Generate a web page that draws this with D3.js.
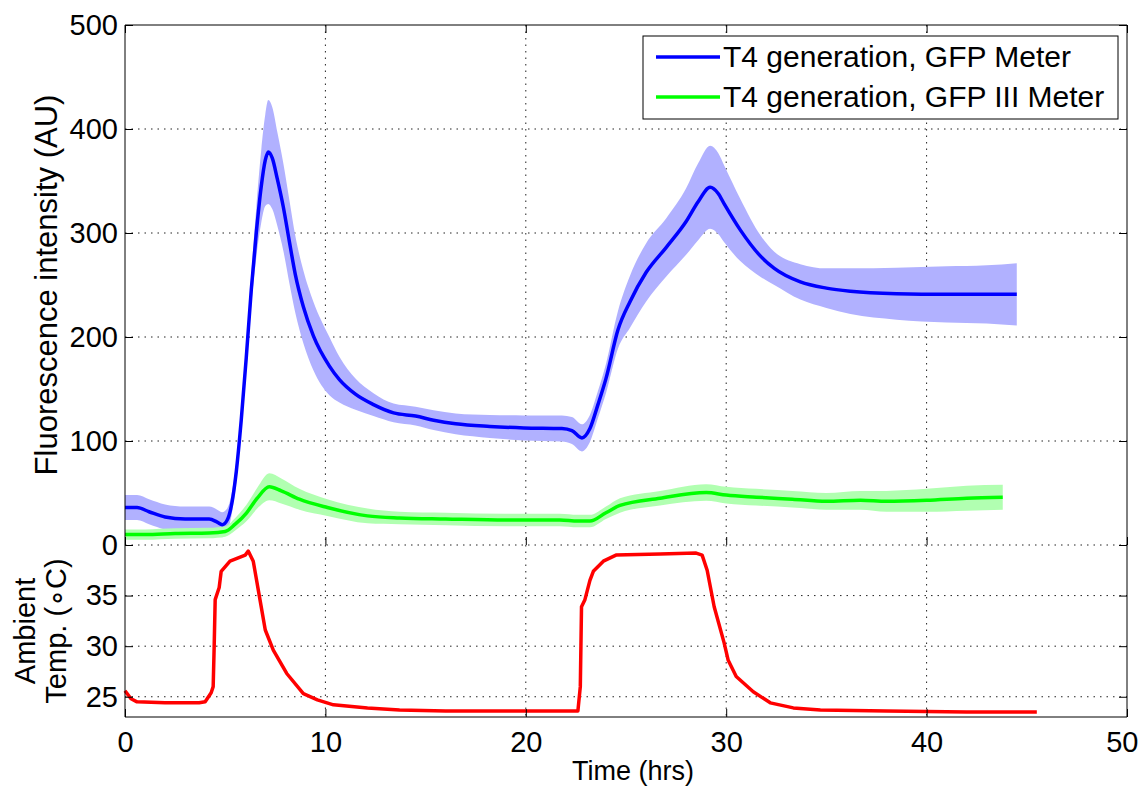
<!DOCTYPE html>
<html>
<head>
<meta charset="utf-8">
<script src="https://cdn.jsdelivr.net/npm/d3@7/dist/d3.min.js"></script>
<style>
    body { margin: 0; background: #fff; }
    svg text { font-family: "Liberation Sans", Arial, sans-serif; fill: #000; }
</style>
</head>
<body>
<svg id="chart" width="1141" height="790"></svg>
<script>
// T4 generation, GFP Meter (blue): time (hrs), mean, spread
const gfpTime = [0, 0.6, 1.2, 2.0, 3.0, 4.2, 4.6, 4.85, 5.1, 5.3, 5.55, 5.8, 6.05, 6.3, 6.55, 6.8, 7.0, 7.15, 7.35, 7.6, 7.9, 8.2, 8.5, 8.9, 9.4, 10.2, 10.7, 11.5, 12.4, 13.4, 14.5, 15.4, 16.5, 18.2, 19.9, 21.8, 22.3, 22.8, 23.2, 23.6, 24.0, 24.6, 25.2, 26.0, 27.0, 28.0, 28.6, 29.2, 29.6, 29.9, 30.7, 31.7, 32.4, 33.7, 35.0, 36.2, 38.5, 41.0, 43.0, 44.5];
const gfpMean = [36, 36, 32, 27, 25, 25, 22, 19.5, 24, 37, 70, 120, 180, 245, 300, 345, 370, 378, 372, 352, 325, 292, 260, 229, 201, 172, 159, 145, 135, 127, 124, 120, 116.5, 114, 112.6, 112, 110, 103, 112, 135, 160, 207, 234, 262, 286, 311, 330, 344, 338, 328, 303, 278, 266, 253, 247, 244, 241.6, 241, 241, 241];
const gfpSpread = [12, 12, 12, 12, 12, 12, 12, 12, 11, 10, 10, 10, 12, 15, 24, 35, 44, 50, 49, 45, 42, 40, 37, 35, 33, 28, 22, 15, 11, 9, 9, 9.5, 10, 11, 12, 12.5, 13, 13, 13, 13, 14, 18, 25, 28, 28, 32, 37, 40, 39, 37, 30, 20, 16, 17, 19, 22, 25, 27, 28, 30];

// T4 generation, GFP III Meter (green)
const gfp3Time = [0, 1.0, 2.5, 4.2, 5.0, 5.5, 6.07, 6.6, 7.2, 7.8, 8.7, 10.1, 12.1, 13.7, 16.0, 19.0, 21.7, 22.6, 23.2, 24.0, 24.7, 26.7, 29.0, 30.0, 31.5, 33.3, 35.0, 36.7, 38.0, 40.0, 42.0, 43.8];
const gfp3Mean = [10, 10, 11, 11.5, 13, 20, 31, 45, 56, 52, 44, 36, 28, 26, 25, 24, 24, 23, 23, 31, 38, 45, 50.5, 48, 46, 44, 42, 43, 42, 43, 45, 46];
const gfp3Spread = [5, 5, 5, 5, 5, 6, 8, 10, 13, 12, 10, 8, 7, 6, 6, 6, 6, 6, 6, 6, 7, 7, 8, 8, 8, 8, 8, 9, 10, 11, 12, 12];

// Ambient temperature (red)
const tempTime = [0, 0.3, 0.6, 2.0, 3.7, 4.0, 4.3, 4.4, 4.45, 4.5, 4.7, 4.8, 5.24, 6.0, 6.15, 6.4, 6.7, 7.0, 7.4, 8.07, 8.9, 9.6, 10.4, 12.1, 13.7, 16.0, 19.0, 22.6, 22.72, 22.78, 22.95, 23.2, 23.37, 23.87, 24.5, 26.7, 28.5, 28.8, 29.05, 29.4, 29.9, 30.1, 30.5, 31.35, 32.2, 33.35, 34.7, 38.0, 42.0, 45.5];
const tempC = [25.6, 24.8, 24.5, 24.4, 24.4, 24.5, 25.4, 26, 30, 34.6, 35.8, 37.4, 38.4, 39.0, 39.4, 38.4, 35, 31.6, 29.6, 27.3, 25.3, 24.7, 24.2, 23.9, 23.7, 23.6, 23.6, 23.6, 26, 33.9, 34.6, 36.5, 37.4, 38.4, 39.0, 39.1, 39.2, 39.0, 37.5, 33.9, 30.3, 28.6, 27.0, 25.5, 24.4, 23.9, 23.7, 23.6, 23.5, 23.5];

const xTicks = [0, 10, 20, 30, 40, 50];
const fluorTicks = [0, 100, 200, 300, 400, 500];
const tempTicks = [25, 30, 35];
const legendLabels = ['T4 generation, GFP Meter', 'T4 generation, GFP III Meter'];

const plot = { left: 125, right: 1127, top: 25, mid: 545, bottom: 717, tick: 8 };
const svg = d3.select('#chart');

const x = d3.scaleLinear([0, 50], [plot.left, plot.right]);
const yFluor = d3.scaleLinear([0, 500], [plot.mid, plot.top]);
const yTemp = d3.scaleLinear([23, 40], [plot.bottom, plot.mid]);

// Grid
const grid = svg.append('g').attr('stroke', '#222').attr('stroke-width', 1).attr('stroke-dasharray', '1.5,5');
grid.selectAll('.vgrid').data(xTicks.slice(1, -1)).enter().append('line').
    attr('x1', d => x(d)).attr('x2', d => x(d)).
    attr('y1', plot.top).attr('y2', plot.bottom);
grid.selectAll('.fgrid').data(fluorTicks.slice(0, -1)).enter().append('line').
    attr('x1', plot.left).attr('x2', plot.right).
    attr('y1', d => yFluor(d)).attr('y2', d => yFluor(d));
grid.selectAll('.tgrid').data(tempTicks).enter().append('line').
    attr('x1', plot.left).attr('x2', plot.right).
    attr('y1', d => yTemp(d)).attr('y2', d => yTemp(d));

// Bands and lines
const band = (time, mean, spread) => d3.area().
    x(i => x(time[i])).
    y0(i => yFluor(mean[i] - spread[i])).
    y1(i => yFluor(mean[i] + spread[i])).
    curve(d3.curveMonotoneX)(d3.range(time.length));
const line = (time, vals, yScale, curve) => d3.line().
    x(i => x(time[i])).
    y(i => yScale(vals[i])).
    curve(curve)(d3.range(time.length));

svg.append('path').attr('d', band(gfpTime, gfpMean, gfpSpread)).attr('fill', '#b1b1ff');
svg.append('path').attr('d', band(gfp3Time, gfp3Mean, gfp3Spread)).attr('fill', '#b1ffb1');
svg.append('path').attr('d', line(gfpTime, gfpMean, yFluor, d3.curveMonotoneX)).
    attr('fill', 'none').attr('stroke', '#0000ff').attr('stroke-width', 3.5);
svg.append('path').attr('d', line(gfp3Time, gfp3Mean, yFluor, d3.curveMonotoneX)).
    attr('fill', 'none').attr('stroke', '#00ff00').attr('stroke-width', 3.5);
svg.append('path').attr('d', line(tempTime, tempC, yTemp, d3.curveLinear)).
    attr('fill', 'none').attr('stroke', '#ff0000').attr('stroke-width', 3.5).attr('stroke-linejoin', 'round');

// Axes
const styleAxis = (g) => {
    g.select('.domain').remove();
    g.selectAll('.tick line').attr('stroke', '#000');
    g.selectAll('.tick text').attr('font-size', 29).attr('fill', '#000');
};
svg.append('g').attr('transform', `translate(${plot.left},0)`).
    call(d3.axisLeft(yFluor).tickValues(fluorTicks).tickSizeInner(-plot.tick).tickSizeOuter(0).tickPadding(7)).
    call(styleAxis);
svg.append('g').attr('transform', `translate(${plot.left},0)`).
    call(d3.axisLeft(yTemp).tickValues(tempTicks).tickSizeInner(-plot.tick).tickSizeOuter(0).tickPadding(7)).
    call(styleAxis);
svg.append('g').attr('transform', `translate(${plot.right},0)`).
    call(d3.axisRight(yFluor).tickValues(fluorTicks).tickSizeInner(-plot.tick).tickSizeOuter(0).tickFormat('')).
    call(styleAxis);
svg.append('g').attr('transform', `translate(${plot.right},0)`).
    call(d3.axisRight(yTemp).tickValues(tempTicks).tickSizeInner(-plot.tick).tickSizeOuter(0).tickFormat('')).
    call(styleAxis);
const xAxis = svg.append('g').attr('transform', `translate(0,${plot.bottom})`).
    call(d3.axisBottom(x).tickValues(xTicks).tickSizeInner(-plot.tick).tickSizeOuter(0).tickPadding(14)).
    call(styleAxis);
// keep the last label inside the picture
xAxis.selectAll('.tick text').filter(d => d === 50).attr('text-anchor', 'end').attr('dx', 11);
svg.append('g').attr('transform', `translate(0,${plot.mid})`).
    call(d3.axisBottom(x).tickValues(xTicks).tickSizeInner(-plot.tick).tickSizeOuter(0).tickFormat('')).
    call(styleAxis);
svg.append('g').attr('transform', `translate(0,${plot.top})`).
    call(d3.axisTop(x).tickValues(xTicks).tickSizeInner(-plot.tick).tickSizeOuter(0).tickFormat('')).
    call(styleAxis);

// Frame
svg.append('path').
    attr('d', `M${plot.left},${plot.top}V${plot.bottom}H${plot.right}V${plot.top}Z`).
    attr('fill', 'none').attr('stroke', '#000').attr('stroke-width', 1);

// Axis labels
svg.append('text').
    attr('transform', `translate(57,${(plot.top + plot.mid) / 2}) rotate(-90)`).
    attr('text-anchor', 'middle').attr('font-size', 31).
    text('Fluorescence intensity (AU)');
svg.append('text').
    attr('transform', `translate(35,${(plot.mid + plot.bottom) / 2}) rotate(-90)`).
    attr('text-anchor', 'middle').attr('font-size', 29).
    text('Ambient');
svg.append('text').
    attr('transform', `translate(66,${(plot.mid + plot.bottom) / 2}) rotate(-90)`).
    attr('text-anchor', 'middle').attr('font-size', 29).
    text('Temp. (∘C)');
svg.append('text').
    attr('x', 633).attr('y', 780).
    attr('text-anchor', 'middle').attr('font-size', 27).
    text('Time (hrs)');

// Legend
const legend = svg.append('g').attr('transform', 'translate(643,36)');
legend.append('rect').attr('width', 475).attr('height', 83).
    attr('fill', '#fff').attr('stroke', '#000').attr('stroke-width', 1);
const legendColors = ['#0000ff', '#00ff00'];
legendLabels.forEach((label, i) => {
    const yRow = 21 + i * 40;
    legend.append('line').attr('x1', 13).attr('x2', 77).attr('y1', yRow).attr('y2', yRow).
        attr('stroke', legendColors[i]).attr('stroke-width', 3.5);
    legend.append('text').attr('x', 80).attr('y', yRow + 10).attr('font-size', 30).text(label);
});
</script>
</body>
</html>
